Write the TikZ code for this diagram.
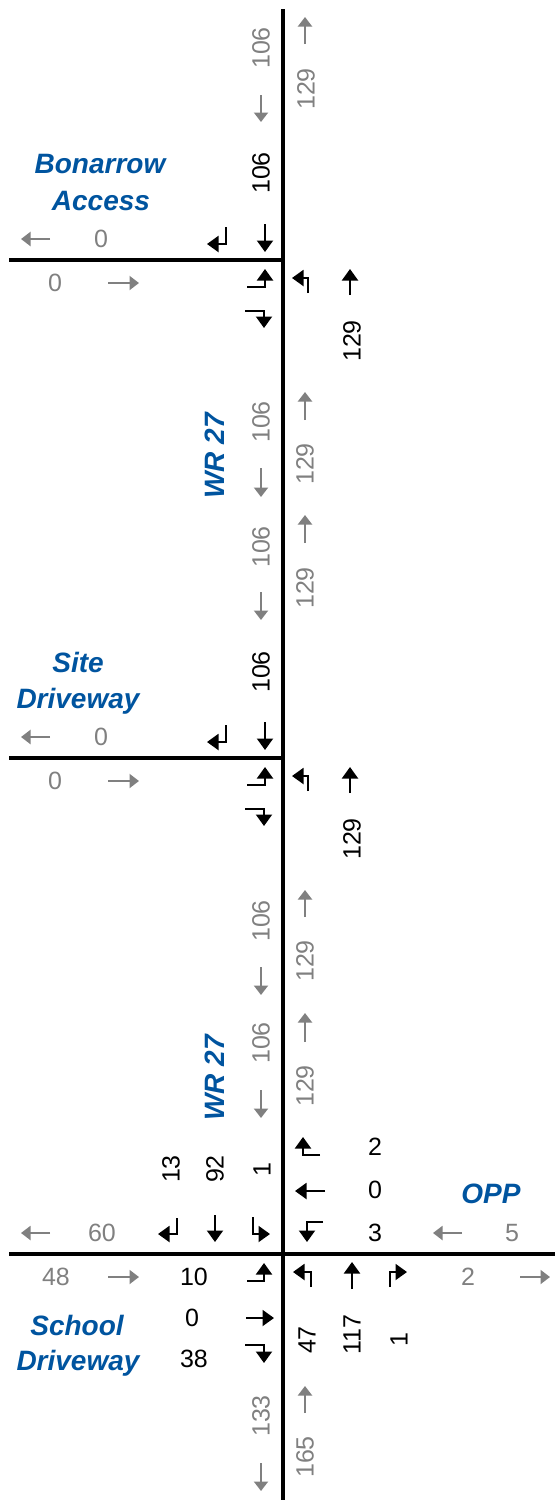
\documentclass[tikz,border=0pt]{standalone}
\usepackage{fontspec}
\setmainfont{Liberation Sans}
\usetikzlibrary{arrows.meta}
\definecolor{roadblue}{RGB}{0,84,159}
\definecolor{flowgrey}{RGB}{128,128,128}
\begin{document}
\begin{tikzpicture}[x=1pt,y=-1pt,
  num/.style={font=\fontsize{25}{30}\selectfont, inner sep=0pt, text=black},
  gnum/.style={num, text=flowgrey},
  rot/.style={rotate=90},
  rlab/.style={font=\fontsize{28}{33}\selectfont\bfseries\itshape, text=roadblue, inner sep=0pt},
  road/.style={line width=4pt, black},
  barr/.style={black, line width=2pt, line join=miter, -{Triangle[length=11.5pt,width=16pt]}},
  garr/.style={flowgrey, line width=2pt, -{Triangle[length=9.5pt,width=14pt]}},
]
\useasboundingbox (0,0) rectangle (555,1500);

% roads
\draw[road] (283,9) -- (283,1500);
\draw[road] (9,260) -- (285,260);
\draw[road] (9,758) -- (285,758);
\draw[road] (9,1254) -- (555,1254);

% ---------------- Bonarrow Access ----------------
\node[gnum,rot] (t106g) at (261,48) {106};
\draw[garr] (261,95) -- (261,122);
\draw[garr] (305,44) -- (305,17);
\node[gnum,rot] (t129g) at (306,89) {129};
\node[num,rot] (t106) at (261,173) {106};
\draw[barr] (265,224) -- (265,252);
\draw[barr] (226,227) -- (226,244) -- (207,244);
\draw[garr] (50,239) -- (21,239);
\node[gnum] (bwb0) at (101,239) {0};
\node[rlab,anchor=base] (bon1) at (100,173) {Bonarrow};
\node[rlab,anchor=base] (bon2) at (101,210) {Access};
\node[gnum] (beb0) at (55,283) {0};
\draw[garr] (108,283) -- (139,283);
\draw[barr] (247,287) -- (265,287) -- (265,269);
\draw[barr] (245,311) -- (264,311) -- (264,328);
\draw[barr] (308,293) -- (308,278) -- (292,278);
\draw[barr] (350,295) -- (350,269);
\node[num,rot] (b129) at (352,341) {129};

% ---------------- WR 27 upper ----------------
\node[rlab,rot] (wr1) at (215,456) {WR 27};
\node[gnum,rot] (m106a) at (261,422) {106};
\draw[garr] (261,468) -- (261,497);
\draw[garr] (305,420) -- (305,392);
\node[gnum,rot] (m129a) at (305,464) {129};
\node[gnum,rot] (m106b) at (261,547) {106};
\draw[garr] (261,592) -- (261,620);
\draw[garr] (305,543) -- (305,515);
\node[gnum,rot] (m129b) at (305,588) {129};

% ---------------- Site Driveway ----------------
\node[num,rot] (s106) at (261,672) {106};
\draw[barr] (265,722) -- (265,750);
\draw[barr] (226,725) -- (226,742) -- (207,742);
\draw[garr] (50,737) -- (21,737);
\node[gnum] (swb0) at (101,737) {0};
\node[rlab,anchor=base] (site1) at (78,672) {Site};
\node[rlab,anchor=base] (site2) at (78,708) {Driveway};
\node[gnum] (seb0) at (55,781) {0};
\draw[garr] (108,781) -- (139,781);
\draw[barr] (247,785) -- (265,785) -- (265,767);
\draw[barr] (245,809) -- (264,809) -- (264,826);
\draw[barr] (308,791) -- (308,776) -- (292,776);
\draw[barr] (350,793) -- (350,767);
\node[num,rot] (s129) at (352,839) {129};

% ---------------- WR 27 lower ----------------
\node[gnum,rot] (l106a) at (261,921) {106};
\draw[garr] (305,917) -- (305,890);
\draw[garr] (261,967) -- (261,995);
\node[gnum,rot] (l129a) at (305,961) {129};
\draw[garr] (305,1042) -- (305,1013);
\node[gnum,rot] (l106b) at (261,1043) {106};
\node[rlab,rot] (wr2) at (215,1078) {WR 27};
\node[gnum,rot] (l129b) at (305,1086) {129};
\draw[garr] (261,1090) -- (261,1118);

% ---------------- School Driveway / OPP ----------------
\node[num,rot] (sbr) at (171,1169) {13};
\node[num,rot] (sbt) at (215,1169) {92};
\node[num,rot] (sbl) at (262,1170) {1};
\draw[barr] (177,1218) -- (177,1234) -- (158,1234);
\draw[barr] (215,1215) -- (215,1242);
\draw[barr] (253,1217) -- (253,1234) -- (270,1234);

\draw[barr] (320,1155) -- (303,1155) -- (303,1137);
\node[num] (wbr) at (375,1147) {2};
\draw[barr] (325,1191) -- (295,1191);
\node[num] (wbt) at (375,1190) {0};
\node[rlab,anchor=base] (opp) at (491,1203) {OPP};
\draw[barr] (323,1222) -- (307,1222) -- (307,1242);
\node[num] (wbl) at (375,1233) {3};
\draw[garr] (462,1233) -- (433,1233);
\node[gnum] (wbin) at (512,1233) {5};
\draw[garr] (50,1233) -- (21,1233);
\node[gnum] (ebout) at (102,1233) {60};

\node[gnum] (ebin) at (56,1277) {48};
\draw[garr] (108,1277) -- (139,1277);
\node[num] (ebl) at (194,1277) {10};
\draw[barr] (247,1281) -- (264,1281) -- (264,1263);
\draw[barr] (311,1287) -- (311,1272) -- (293,1272);
\draw[barr] (352,1289) -- (352,1262);
\draw[barr] (390,1287) -- (390,1272) -- (407,1272);
\node[gnum] (wbout) at (468,1277) {2};
\draw[garr] (520,1277) -- (550,1277);

\node[num] (ebt) at (192,1318) {0};
\draw[barr] (246,1318) -- (274,1318);
\node[rlab,anchor=base] (sch1) at (77,1335) {School};
\node[rlab,anchor=base] (sch2) at (78,1370) {Driveway};
\node[num] (ebr) at (194,1359) {38};
\draw[barr] (245,1345) -- (264,1345) -- (264,1363);
\node[num,rot] (nbl) at (307,1340) {47};
\node[num,rot] (nbt) at (352,1335) {117};
\node[num,rot] (nbr) at (399,1340) {1};

\node[gnum,rot] (b133) at (261,1416) {133};
\draw[garr] (261,1463) -- (261,1491);
\draw[garr] (305,1413) -- (305,1386);
\node[gnum,rot] (b165) at (305,1457) {165};
\end{tikzpicture}
\end{document}
